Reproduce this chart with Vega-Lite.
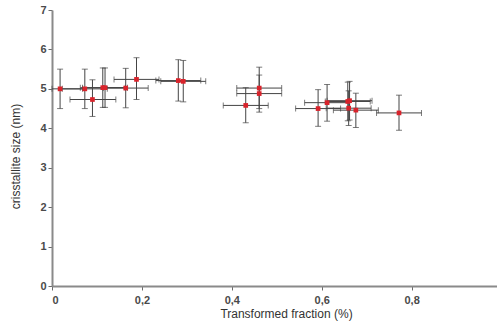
{
  "$schema": "https://vega.github.io/schema/vega-lite/v6.json",
  "width": 445,
  "height": 276,
  "autosize": "none",
  "padding": {"left": 52, "top": 10, "right": 0, "bottom": 38},
  "background": "white",
  "config": {
    "view": {"stroke": null},
    "axis": {
      "grid": false,
      "domainColor": "#8a8a8a",
      "domainWidth": 2,
      "tickColor": "#6a6a6a",
      "tickSize": 4,
      "labelFont": "Liberation Sans",
      "labelFontSize": 11,
      "labelFontWeight": "bold",
      "labelColor": "#4a4a4a",
      "labelOverlap": false,
      "titleFont": "Liberation Sans",
      "titleFontSize": 12,
      "titleFontWeight": "normal",
      "titleColor": "#333333"
    }
  },
  "data": {
    "values": [
      {"x": 0.018, "y": 5.00, "xlo": 0.0, "xhi": 0.068, "ylo": 4.50, "yhi": 5.50},
      {"x": 0.073, "y": 5.00, "xlo": 0.023, "xhi": 0.123, "ylo": 4.50, "yhi": 5.50},
      {"x": 0.090, "y": 4.73, "xlo": 0.040, "xhi": 0.142, "ylo": 4.30, "yhi": 5.23},
      {"x": 0.113, "y": 5.03, "xlo": 0.063, "xhi": 0.163, "ylo": 4.53, "yhi": 5.53},
      {"x": 0.118, "y": 5.03, "xlo": 0.068, "xhi": 0.168, "ylo": 4.53, "yhi": 5.53},
      {"x": 0.164, "y": 5.02, "xlo": 0.114, "xhi": 0.214, "ylo": 4.52, "yhi": 5.52},
      {"x": 0.188, "y": 5.24, "xlo": 0.138, "xhi": 0.238, "ylo": 4.73, "yhi": 5.79},
      {"x": 0.281, "y": 5.21, "xlo": 0.231, "xhi": 0.331, "ylo": 4.69, "yhi": 5.74},
      {"x": 0.292, "y": 5.19, "xlo": 0.242, "xhi": 0.342, "ylo": 4.67, "yhi": 5.72},
      {"x": 0.431, "y": 4.58, "xlo": 0.381, "xhi": 0.481, "ylo": 4.14, "yhi": 5.03},
      {"x": 0.461, "y": 5.02, "xlo": 0.411, "xhi": 0.511, "ylo": 4.50, "yhi": 5.55},
      {"x": 0.461, "y": 4.88, "xlo": 0.411, "xhi": 0.511, "ylo": 4.41, "yhi": 5.35},
      {"x": 0.592, "y": 4.50, "xlo": 0.542, "xhi": 0.642, "ylo": 4.05, "yhi": 4.98},
      {"x": 0.612, "y": 4.65, "xlo": 0.562, "xhi": 0.662, "ylo": 4.18, "yhi": 5.11},
      {"x": 0.658, "y": 4.68, "xlo": 0.608, "xhi": 0.708, "ylo": 4.19, "yhi": 5.17},
      {"x": 0.662, "y": 4.70, "xlo": 0.612, "xhi": 0.712, "ylo": 4.21, "yhi": 5.19},
      {"x": 0.660, "y": 4.51, "xlo": 0.610, "xhi": 0.710, "ylo": 4.07, "yhi": 4.95},
      {"x": 0.676, "y": 4.46, "xlo": 0.626, "xhi": 0.726, "ylo": 4.02, "yhi": 4.89},
      {"x": 0.772, "y": 4.39, "xlo": 0.722, "xhi": 0.822, "ylo": 3.95, "yhi": 4.84}
    ]
  },
  "layer": [
    {
      "mark": {"type": "errorbar", "ticks": {"size": 6, "color": "#444444"}, "rule": {"color": "#444444", "strokeWidth": 1}},
      "encoding": {
        "x": {"field": "xlo", "type": "quantitative", "scale": {"domain": [0, 0.99], "nice": false},
          "axis": {"values": [0, 0.2, 0.4, 0.6, 0.8], "labelExpr": "datum.value == 0 ? '0' : replace(format(datum.value, '.1f'), '.', ',')", "labelPadding": 4, "titleX": 234, "titleY": 22},
          "title": "Transformed fraction (%)"},
        "x2": {"field": "xhi"},
        "y": {"field": "y", "type": "quantitative", "scale": {"domain": [0, 7], "nice": false},
          "axis": {"values": [0, 1, 2, 3, 4, 5, 6, 7], "labelPadding": 2, "titleX": -30, "titleY": 146},
          "title": "crisstallite size (nm)"}
      }
    },
    {
      "mark": {"type": "errorbar", "ticks": {"size": 6, "color": "#444444"}, "rule": {"color": "#444444", "strokeWidth": 1}},
      "encoding": {
        "y": {"field": "ylo", "type": "quantitative", "title": "crisstallite size (nm)",
          "axis": {"values": [0, 1, 2, 3, 4, 5, 6, 7], "labelPadding": 2, "titleX": -30, "titleY": 146}},
        "y2": {"field": "yhi"},
        "x": {"field": "x", "type": "quantitative", "title": "Transformed fraction (%)",
          "axis": {"values": [0, 0.2, 0.4, 0.6, 0.8], "labelExpr": "datum.value == 0 ? '0' : replace(format(datum.value, '.1f'), '.', ',')", "labelPadding": 4, "titleX": 234, "titleY": 22}}
      }
    },
    {
      "mark": {"type": "point", "filled": true, "shape": "square", "size": 22, "color": "#d9232b", "opacity": 1},
      "encoding": {
        "x": {"field": "x", "type": "quantitative", "title": "Transformed fraction (%)",
          "axis": {"values": [0, 0.2, 0.4, 0.6, 0.8], "labelExpr": "datum.value == 0 ? '0' : replace(format(datum.value, '.1f'), '.', ',')", "labelPadding": 4, "titleX": 234, "titleY": 22}},
        "y": {"field": "y", "type": "quantitative", "title": "crisstallite size (nm)",
          "axis": {"values": [0, 1, 2, 3, 4, 5, 6, 7], "labelPadding": 2, "titleX": -30, "titleY": 146}}
      }
    }
  ]
}
